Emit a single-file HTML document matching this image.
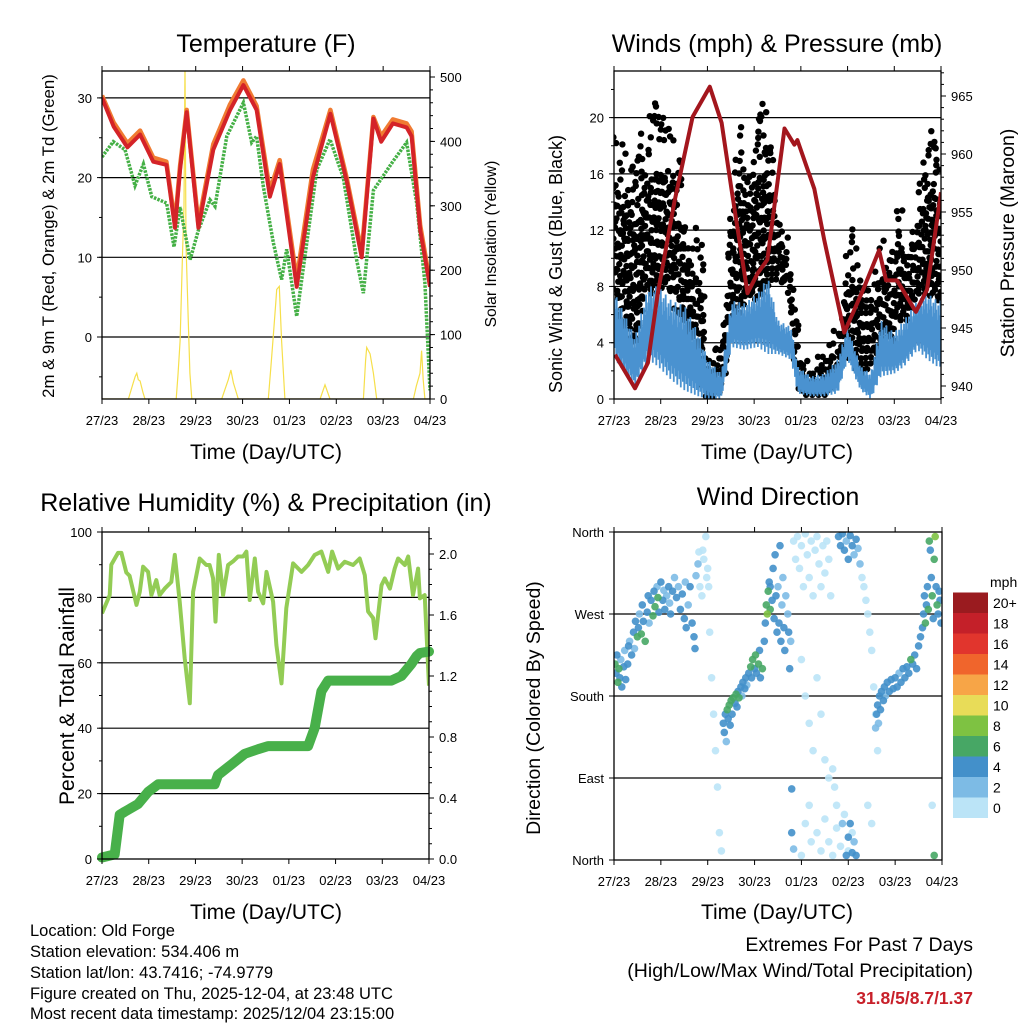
<!DOCTYPE html>
<html><head><meta charset="utf-8">
<style>
body{margin:0;background:#fff;}
svg{display:block;font-family:"Liberation Sans",sans-serif;}
</style></head>
<body>
<svg id="chart" width="1024" height="1024" viewBox="0 0 1024 1024" xmlns="http://www.w3.org/2000/svg">
<rect width="1024" height="1024" fill="#fff"/>
<g id="p1"></g>
<g id="p2"></g>
<g id="p3"></g>
<g id="p4"></g>
<g id="cbar"></g>
<g font-size="25" text-anchor="middle">
<text x="266" y="52">Temperature (F)</text>
<text x="777" y="52">Winds (mph) &amp; Pressure (mb)</text>
<text x="266" y="511">Relative Humidity (%) &amp; Precipitation (in)</text>
<text x="778" y="505">Wind Direction</text>
</g>
<g font-size="21" text-anchor="middle">
<text x="266" y="459">Time (Day/UTC)</text>
<text x="777" y="459">Time (Day/UTC)</text>
<text x="266" y="919">Time (Day/UTC)</text>
<text x="777" y="919">Time (Day/UTC)</text>
</g>
<g text-anchor="middle">
<text transform="translate(562,264) rotate(-90)" font-size="18">Sonic Wind &amp; Gust (Blue, Black)</text>
<text transform="translate(1014,243) rotate(-90)" font-size="19.5">Station Pressure (Maroon)</text>
<text transform="translate(74,696) rotate(-90)" font-size="21">Percent &amp; Total Rainfall</text>
<text transform="translate(540,708) rotate(-90)" font-size="19.5">Direction (Colored By Speed)</text>
<text transform="translate(54,236) rotate(-90)" font-size="16.8">2m &amp; 9m T (Red, Orange) &amp; 2m Td (Green)</text>
<text transform="translate(496,244) rotate(-90)" font-size="15.6">Solar Insolation (Yellow)</text>
</g>
<g font-size="16.5">
<text x="30" y="936">Location: Old Forge</text>
<text x="30" y="957">Station elevation: 534.406 m</text>
<text x="30" y="978">Station lat/lon: 43.7416; -74.9779</text>
<text x="30" y="999">Figure created on Thu, 2025-12-04, at 23:48 UTC</text>
<text x="30" y="1019">Most recent data timestamp: 2025/12/04 23:15:00</text>
</g>
<g font-size="19.5" text-anchor="end">
<text x="973" y="951">Extremes For Past 7 Days</text>
<text x="973" y="977">(High/Low/Max Wind/Total Precipitation)</text>
<text x="973" y="1004" font-size="17.5" font-weight="bold" fill="#c8202a">31.8/5/8.7/1.37</text>
</g>
</svg>
<script>
// ---------- DATA ----------
const dayLabels=["27/23","28/23","29/23","30/23","01/23","02/23","03/23","04/23"];
const tempT=[0,6,13,19.5,26.3,33,37.4,40,43.4,49.4,57,65.6,72.4,79.2,86,91,99.7,108,117,125.3,133,139,143,149,156,158.6,163,168];
const tempV=[30,26.4,23.8,25.4,22,21.6,13.7,21,28.2,13.7,23.5,28.5,31.6,28.5,17.6,21.7,6.3,20,28,19.6,10,27.4,24.5,26.8,26.3,25.2,13.4,6.3];
const temp9V=[30.3,26.9,24.3,25.9,22.5,22,14.2,21.5,28.5,14.2,24.2,29.2,32.2,29,18.3,22.2,7.2,21,28.5,20,10.6,27.6,25.2,27.3,26.8,25.8,14,6.8];
const dewT=[0,5.8,11.8,16.9,21.2,25.5,33.1,36.9,40,45.1,49.4,55.3,57.9,63.9,72.4,76.7,79.2,82.6,87.8,92,94.6,99.7,110,116.8,123.6,130.4,133.9,139,149.2,156,161.2,165.4,168];
const dewV=[22.6,24.5,23.5,19,21.7,17.6,16.8,11.3,16.3,9.7,13.4,17.2,16.4,25.2,29.4,24.4,25.2,18.9,11.8,7.2,11,2.6,21,24.8,20,9.7,5.5,18.4,22.1,24.4,16.8,6.8,-6.7];
const solarT=[0,13.5,15,16,17,17.8,18.6,19.5,21,22,38,39,40,41.3,42,42.5,43,44.2,45,46,61.3,63,64.7,66,67.3,69.8,85.2,86.5,87.8,89,89.5,90.8,92,93.7,111.7,114.2,116.8,133.9,135,135.6,137.3,139,140.7,159.5,161,162.9,163.7,164.5,165.4,168];
const solarV=[0,0,15,25,35,40,30,28,10,0,0,40,90,230,300,520,240,120,40,0,0,15,30,45,25,0,0,50,100,150,170,175,90,0,0,22,0,0,60,80,70,40,0,0,20,40,75,30,0,0];
const pressT=[0.5,10.8,17.4,22.5,31.2,40.4,49.2,55.3,60.4,68.6,73.7,78.8,87.6,92.7,94.2,102.9,108,118.3,128.5,136.2,139.8,145.4,155.1,160.8,168];
const pressV=[942.7,939.8,942,948,956,963.2,965.8,962.7,956.9,948,949.7,950.9,962.2,960.8,961.2,957,952.6,944.6,948.5,951.7,949.1,949.1,946.4,948.3,956.7];
const gustT=[0.5,5.6,10.8,15.9,21,26.1,29.5,34.7,39.8,44.9,48.3,53.4,56.9,60.3,63.7,68.8,73.9,79,84.2,89.3,92.7,96.1,101.2,106.4,109.8,114.9,118.3,121.7,126.8,132,137.1,142.2,145.6,150.7,155.9,161,166.1];
const gustHi=[19.4,18.4,17.5,19.8,21.2,20,20,16.3,13.2,12.2,3.7,3.7,7.5,14.6,21.2,17,21,21,14.6,12.2,8.7,2.8,2.8,3.4,4.7,5.1,9.4,12.7,9.9,7.5,11.8,10.6,14.6,12.9,15,19.6,18.6];
const gustLo=[7.5,4,2.8,7.5,7.5,8,7.5,4.7,2.8,0.8,0,0.3,1.6,5.6,5.6,7.5,7,8,8.7,7.5,2.8,0.3,0.3,0.3,0.3,1.6,3.5,2.8,1.6,2.3,3.5,3.2,5.6,5.6,7.5,7.5,7];
const windT=[0.5,10.8,17.6,22.7,29.5,36.4,43.2,48.3,55.1,60.3,67.1,73.9,79,84.2,91,94.4,101.2,108,114.9,120,126.8,132,137.1,143.9,149,155.9,161,166.1];
const windHi=[7.5,4.4,8,8,7,6.6,4.7,2.8,1.8,7,6.8,7.5,8.7,5.6,5.1,2.3,1.6,1.8,2.8,5.1,2.3,1.8,5.6,4.7,5.6,7,7.5,7];
const windLo=[2.8,0.9,2.8,2.3,1.35,0.6,0.2,0,0,3.7,3.5,3.7,3.2,3.2,2.8,0.4,0.2,0.2,0.4,2.8,0.6,0,1.6,1.8,2.3,3.5,2.8,2.3];
const rhT=[0,3.96,4.8,8.2,9.95,12.5,14.2,17.7,19.4,21.1,23.7,25.4,27.9,29.6,32.2,35.6,37.4,39.9,42.5,45.1,46.8,50.2,53.6,55.3,57.1,58.3,60,62.2,64.8,67.3,69.9,72.5,74.2,75.9,78.5,80.2,82.8,84.5,87.9,89.6,92.2,94.7,98.2,102.5,105.9,109.3,112.7,116.2,118.2,121.3,124.7,129,132.4,135,136.7,139.3,140.5,143.6,145.3,147.9,150.4,152.1,155.6,157.3,159.8,162.4,163.3,165.8,168];
const rhV=[75.1,80.7,90,93.6,93.6,87.6,86.6,77.7,81.7,89.4,87.8,80.7,85.3,80.7,82.7,84.7,93,78.7,61.4,47.6,81.7,91.9,89.9,89.9,85.8,72.6,93,80.7,89.9,91,92.5,92.5,94,79.2,91.9,81.7,78.2,87.8,78.7,65.4,53.7,76.7,90.4,87.8,89.9,93,94,87.8,94,88.8,90.9,89.9,91.9,86.8,75.7,73.7,67.5,83.7,85.8,82.7,88.8,91.9,89.9,92.5,80.7,88.8,79.7,80.7,53];
const precT=[0,6.5,9.1,11.7,18.5,23.7,28.8,57.9,59.6,66.5,73.3,80.2,85.3,105.9,109.3,112.7,116.2,148.7,153.8,159,161.6,163.3,168];
const precV=[0.01,0.03,0.29,0.31,0.36,0.44,0.49,0.49,0.55,0.62,0.69,0.72,0.74,0.74,0.86,1.1,1.17,1.17,1.2,1.28,1.33,1.35,1.36];
const dirT=[0.5,1,1.5,2,2.5,3,3.5,4,5,5.5,6,7,7.5,8,9,10,10.5,11,12,12.5,13,14,14.5,15,16,17,17.5,18,19,20,20.5,21,22,22.5,23,24,25,25.5,26,27,28,28.5,29,30,31,32,33,34,35,36,36.5,37,38,39,40,41,41.5,42,43,43.5,44,45,45.5,46,47,47.5,48,48.5,49,50,51,52,53,54,55,
56,56.5,57,57.5,58,58.5,59,59.5,60,60.5,61,62,62.5,63,63.5,64,65,65.5,66,67,67.5,68,69,70,70.5,71,72,72.5,73,74,74.5,75,76,77,
77.5,78,78.5,79,79.5,80,80,81,81.5,82,82.5,83,83.5,84,84.5,85,85.5,86,86.5,87,87.5,88,89,89.5,90,90.5,
92,93,94,95,96,97,98,99,100,101,102,103,104,105,106,107,108,109,110,111,96,98,100,102,104,106,108,110,112,113,114,100,98,104,106,108,110,112,114,116,118,120,122,117,119,120,121,122,123,124,96,101,92,91,91,
115,116,117,118,119,120,121,122,123,124,125,126,127,128,129,130,131,132,133,134,135,132,130,
134,134.5,135,135.5,136,136.5,137,138,138.5,139,140,141,142,143,144,145,146,147,148,149,150,151,152,153,154,155,156,157,158,
158.5,159,159.5,160,160.5,161,161.5,162,162.5,163,163.5,164,164.5,165,165.5,166,166.5,167,167.5,164,163];
const dirV=[215,205,225,195,210,200,220,190,212,230,198,215,235,240,225,250,232,262,245,255,270,248,280,262,240,272,290,260,285,268,295,278,300,288,272,305,285,296,275,290,300,282,270,295,310,288,300,275,292,265,305,255,280,300,260,245,232,312,325,338,300,290,340,330,355,310,320,300,250,200,160,120,80,30,10,
150,140,160,130,165,155,170,148,175,160,178,172,182,168,185,178,190,180,195,188,200,192,205,212,200,220,210,225,205,215,230,200,210,240,
260,280,270,295,305,275,300,285,320,265,335,290,250,300,260,345,240,280,310,255,230,290,270,250,210,240,
350,330,355,320,345,300,358,335,310,350,290,340,355,325,300,345,315,350,330,290,220,180,150,120,200,160,110,90,100,80,60,60,40,30,10,45,20,5,35,15,50,10,30,40,5,25,40,8,20,5,5,20,12,78,30,
355,345,358,340,350,330,356,345,335,352,342,325,310,300,285,270,250,230,190,160,120,40,60,
145,160,170,150,180,165,185,175,190,180,195,185,198,188,200,190,205,195,210,200,212,205,220,215,225,210,235,245,255,
270,290,260,280,300,275,350,340,310,290,265,330,355,300,280,270,295,285,260,5,60];
const dirS=[6,4,4,6,6,4,2,4,4,2,4,4,4,2,4,4,2,4,6,4,2,6,4,4,6,4,4,2,4,6,4,6,2,6,4,4,4,2,4,2,4,2,4,4,2,4,2,4,4,4,2,4,2,4,4,4,4,2,2,0,0,0,0,0,0,0,0,0,0,0,0,0,0,0,0,
4,4,4,2,6,4,6,4,6,4,6,4,6,4,4,6,4,2,4,4,4,2,4,6,4,6,4,6,4,6,4,4,6,4,
4,6,8,6,4,6,4,4,4,4,4,4,4,2,4,4,4,2,2,4,4,2,2,4,4,2,
0,0,0,0,0,0,0,0,0,0,0,0,0,0,0,0,0,0,0,0,0,0,0,0,0,0,0,0,0,0,0,0,0,0,0,0,0,0,0,0,0,0,0,2,4,4,4,4,2,4,0,0,2,4,4,
4,4,4,4,2,4,4,4,2,4,2,2,0,0,0,0,0,0,0,0,0,0,0,
2,4,4,2,4,4,4,4,4,2,4,4,4,4,4,4,2,4,4,4,4,4,6,4,4,4,4,4,4,
4,4,6,4,4,6,6,4,4,6,4,6,8,4,6,4,4,4,4,6,0];
const cbLabels=["0","2","4","6","8","10","12","14","16","18","20+"];
const cbColors=["#bbe4f7","#7dbbe5","#4390ca","#47a765","#7ec242","#e8dc58","#f7a547","#f0652c","#e1352d","#c42029","#9a1b1f"];

// ---------- HELPERS ----------
const NS="http://www.w3.org/2000/svg";
function mk(parent,tag,attrs){const e=document.createElementNS(NS,tag);for(const k in attrs)e.setAttribute(k,attrs[k]);parent.appendChild(e);return e;}
function txt(parent,x,y,s,anchor,size){const t=mk(parent,'text',{x:x,y:y,'text-anchor':anchor,'font-size':size});t.textContent=s;return t;}
function P(x0,x1,y0,y1){return {x0,x1,y0,y1,X:h=>x0+h/168*(x1-x0)};}
const P1=P(102,430,71,399),P2=P(614,941,71,399),P3=P(102,429,532,859),P4=P(614,942,532,860);
const yT=v=>337-7.97*v, yS=v=>399-0.644*v, yW=v=>399-14.07*v, yP=v=>386-11.6*(v-940);
const yR=v=>859-3.27*v, yPr=v=>859-152.5*v, yD=v=>860-v*328/360;
function pathOf(ts,vs,X,Y){return ts.map((t,i)=>(i?'L':'M')+X(Math.min(t,168)).toFixed(1)+','+Y(vs[i]).toFixed(1)).join('');}
function interp(ts,vs,t){if(t<=ts[0])return vs[0];for(let i=1;i<ts.length;i++){if(t<=ts[i]){const f=(t-ts[i-1])/(ts[i]-ts[i-1]);return vs[i-1]+f*(vs[i]-vs[i-1]);}}return vs[vs.length-1];}

function frame(g,p,name){
  const clip=mk(g,'clipPath',{id:'c'+name});
  mk(clip,'rect',{x:p.x0,y:p.y0,width:p.x1-p.x0,height:p.y1-p.y0});
  return mk(g,'g',{'clip-path':'url(#c'+name+')'});
}
function grid(g,p,vals,Y){vals.forEach(v=>{const l=mk(g,'line',{x1:p.x0,x2:p.x1,y1:Y(v),y2:Y(v),stroke:'#000','stroke-width':1.2});

});}
function box(g,p){const r=mk(g,'rect',{x:p.x0,y:p.y0,width:p.x1-p.x0,height:p.y1-p.y0,fill:'none',stroke:'#000','stroke-width':1.3});

}
function xAxis(g,p){
  dayLabels.forEach((s,i)=>{const x=p.X(i*24);
    mk(g,'line',{x1:x,x2:x,y1:p.y1,y2:p.y1+5,stroke:'#000'});
    mk(g,'line',{x1:x,x2:x,y1:p.y0,y2:p.y0-5,stroke:'#000'});
    const t=txt(g,x,p.y1+26,s,'middle',13);
    
    });
}
function yAxis(g,p,Y,major,minor,labels,side){
  const x=side==='L'?p.x0:p.x1, d=side==='L'?-1:1;
  minor.forEach(v=>{mk(g,'line',{x1:x,x2:x+d*3,y1:Y(v),y2:Y(v),stroke:'#000'});});
  major.forEach((v,i)=>{mk(g,'line',{x1:x,x2:x+d*5,y1:Y(v),y2:Y(v),stroke:'#000'});
    const t=txt(g,x+d*10,Y(v)+5,labels[i],side==='L'?'end':'start',13);
    
    });
}
function range(a,b,s){const r=[];for(let v=a;v<=b+1e-9;v+=s)r.push(+v.toFixed(3));return r;}

// ---------- PANEL 1 ----------
(function(){const g=document.getElementById('p1');const c=frame(g,P1,'1');
grid(c,P1,[0,10,20,30],yT);
const s=mk(c,'path',{d:pathOf(solarT,solarV,P1.X,yS),fill:'none',stroke:'#f6df4a','stroke-width':1.2});

const d=mk(c,'path',{d:pathOf(dewT,dewV,P1.X,yT),fill:'none',stroke:'#45b046','stroke-width':3.5,'stroke-dasharray':'2.5 1.2'});

const o=mk(c,'path',{d:pathOf(tempT,temp9V,P1.X,yT),fill:'none',stroke:'#f07b32','stroke-width':4.5,'stroke-linejoin':'round'});

const r=mk(c,'path',{d:pathOf(tempT,tempV,P1.X,yT),fill:'none',stroke:'#d42328','stroke-width':4,'stroke-linejoin':'round'});

box(g,P1);xAxis(g,P1);
yAxis(g,P1,yT,[0,10,20,30],range(-5,30,5),['0','10','20','30'],'L');
yAxis(g,P1,yS,range(0,500,100),range(0,500,20),['0','100','200','300','400','500'],'R');
})();

// ---------- PANEL 2 ----------
(function(){const g=document.getElementById('p2');const c=frame(g,P2,'2');
grid(c,P2,[4,8,12,16,20],yW);
const dots=mk(c,'g',{fill:'#000'});
let k=0;
for(let t=0.3;t<168;t+=0.8){k++;
  const hi=interp(gustT,gustHi,t), lo=interp(gustT,gustLo,t);
  const step=0.9+((k%3)*0.3);
  for(let v=lo+((k%4)*0.3);v<=hi;v+=step){
    const frac=(v-lo)/Math.max(0.1,hi-lo);
    if(frac>0.65 && ((k+Math.round(v*3))%3!==0))continue;
    const cc=mk(dots,'circle',{cx:(P2.X(t+((Math.round(v*7)%5)-2)*0.3)).toFixed(1),cy:yW(v).toFixed(1),r:3.2});
    
    
  }
}
let wd='';let j=0;
for(let t=0.3;t<168;t+=0.18){j++;const hi=interp(windT,windHi,t),lo=interp(windT,windLo,t);
 const v=(j%2)?hi-(hi-lo)*0.45*((j%7)/6):lo+(hi-lo)*0.35*((j%5)/4);
 wd+=(wd?'L':'M')+P2.X(t).toFixed(1)+','+yW(v).toFixed(1);}
const w=mk(c,'path',{d:wd,fill:'none',stroke:'#4a92d0','stroke-width':1.8});

const p=mk(c,'path',{d:pathOf(pressT,pressV,P2.X,yP),fill:'none',stroke:'#a3161d','stroke-width':4,'stroke-linejoin':'round'});

box(g,P2);xAxis(g,P2);
yAxis(g,P2,yW,range(0,20,4),range(0,22,2),['0','4','8','12','16','20'],'L');
yAxis(g,P2,yP,range(940,965,5),range(939,967,1),['940','945','950','955','960','965'],'R');
})();

// ---------- PANEL 3 ----------
(function(){const g=document.getElementById('p3');const c=frame(g,P3,'3');
grid(c,P3,[20,40,60,80],yR);
const r=mk(c,'path',{d:pathOf(rhT,rhV,P3.X,yR),fill:'none',stroke:'#93cc55','stroke-width':4,'stroke-linejoin':'round'});

const pr=mk(g,'path',{d:pathOf(precT,precV,P3.X,yPr),fill:'none',stroke:'#48b04a','stroke-width':10,'stroke-linejoin':'round','stroke-linecap':'round'});

box(g,P3);xAxis(g,P3);
yAxis(g,P3,yR,range(0,100,20),range(0,100,10),['0','20','40','60','80','100'],'L');
yAxis(g,P3,yPr,range(0,2,0.4),range(0,2.1,0.1),['0.0','0.4','0.8','1.2','1.6','2.0'],'R');
})();

// ---------- PANEL 4 ----------
(function(){const g=document.getElementById('p4');const c=frame(g,P4,'4');
grid(c,P4,[90,180,270],yD);
const order=dirS.map((s,i)=>i).sort((a,b)=>dirS[a]-dirS[b]);
order.forEach(i=>{const col=cbColors[Math.min(10,Math.round(dirS[i]/2))];
  const pt=mk(c,'circle',{cx:P4.X(dirT[i]).toFixed(1),cy:yD(dirV[i]).toFixed(1),r:3.8,fill:col,'fill-opacity':0.9});
  
  });
box(g,P4);xAxis(g,P4);
yAxis(g,P4,yD,[0,90,180,270,360],[],['North','East','South','West','North'],'L');
})();

// ---------- COLORBAR ----------
(function(){const g=document.getElementById('cbar');
const x=953,w=35,yb=818,h=20.5;
cbColors.forEach((c,i)=>{const r=mk(g,'rect',{x:x,y:yb-(i+1)*h,width:w,height:h,fill:c});
});
cbLabels.forEach((s,i)=>{const t=txt(g,993,yb-i*h-h/2+5,s,'start',14);
});
const u=txt(g,990,587,'mph','start',14);

})();
</script>
</body></html>
